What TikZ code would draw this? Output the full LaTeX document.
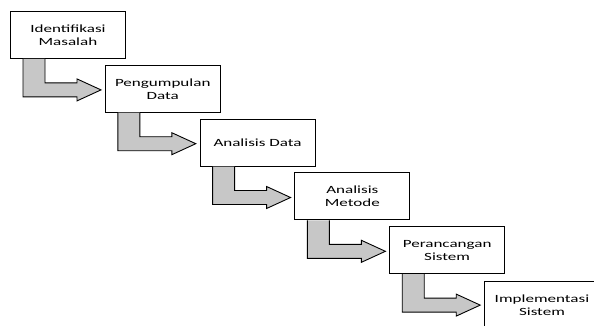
\documentclass[tikz,border=0pt]{standalone}
\usepackage{fontspec}
\setmainfont[FakeStretch=1.55]{Carlito}
\usetikzlibrary{calc}
\tikzset{
  stagebox/.style={draw=black, line width=0.9pt, fill=white, minimum width=115pt, minimum height=47pt,
    inner sep=0pt, anchor=north west, align=center, font=\fontsize{11pt}{13pt}\selectfont},
  flowarrow/.style={draw=black, line width=0.9pt, fill=black!22, line join=miter}
}
\begin{document}
\begin{tikzpicture}[x=1pt,y=-1pt]
\useasboundingbox (0,0) rectangle (594,325);
\clip (0,0) rectangle (594,325);
\node[stagebox] (b1) at (10,11) {Identifikasi\\Masalah};
\node[stagebox] (b2) at (104.8,64.8) {Pengumpulan\\Data};
\node[stagebox] (b3) at (199.6,118.6) {Analisis Data};
\node[stagebox] (b4) at (294.4,172.4) {Analisis\\Metode};
\node[stagebox] (b5) at (389.2,226.2) {Perancangan\\Sistem};
\node[stagebox] (b6) at (484,281) {Implementasi\\Sistem};
\foreach \i in {1,...,5}{
  \draw[flowarrow] ($(b\i.south west)+(13,0)$) -- ($(b\i.south west)+(13,38)$)
    -- ($(b\i.south west)+(67,38)$) -- ($(b\i.south west)+(67,42)$)
    -- ($(b\i.south west)+(91,31)$) -- ($(b\i.south west)+(67,20)$)
    -- ($(b\i.south west)+(67,24)$) -- ($(b\i.south west)+(35,24)$)
    -- ($(b\i.south west)+(35,0)$);
}
\end{tikzpicture}
\end{document}
